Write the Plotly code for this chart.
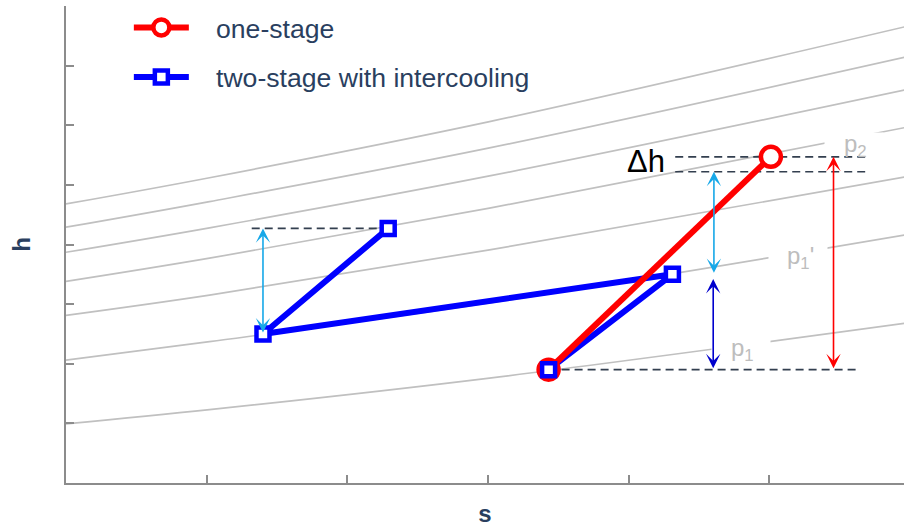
import plotly.graph_objects as go

# ---------------- data ----------------
# isobars in the h-s plane (entropy s, enthalpy h), top line first
isobar_s = [0.0, 1.02, 3.01, 5.96]
isobar_a = [4.68, 5.12, 6.06, 7.65]
isobar_b = [4.29, 4.72, 5.62, 7.14]
isobar_c = [3.87, 4.28, 5.15, 6.59]
isobar_p2 = [3.38, 3.77, 4.61, 5.96]
isobar_d = [2.81, 3.15, 3.91, 5.13]
isobar_p1p = [2.06, 2.37, 3.02, 4.16]
isobar_p1 = [0.99, 1.23, 1.76, 2.68]
isobars = [isobar_a, isobar_b, isobar_c, isobar_p2, isobar_d, isobar_p1p, isobar_p1]

# process lines
one_stage_s = [3.43, 5.01]
one_stage_h = [1.90, 5.47]
two_stage_s = [3.43, 4.31, 1.40, 2.29]
two_stage_h = [1.90, 3.50, 2.50, 4.27]

# dashed reference levels: (s_start, s_end, h)
dash_s0 = [1.32, 4.33, 4.33, 3.43]
dash_s1 = [2.29, 5.68, 5.68, 5.64]
dash_h = [4.27, 5.47, 5.22, 1.90]

# double arrows: s position, lower h, upper h, colour
arrow_s = [1.40, 4.605, 4.60, 5.455]
arrow_lo = [2.50, 3.50, 1.90, 1.90]
arrow_hi = [4.27, 5.22, 3.42, 5.47]
arrow_col = ["#17a8e8", "#17a8e8", "#0000cd", "#ff0000"]

# isobar labels
label_text = ["p<sub>2</sub>", "p<sub>1</sub>'", "p<sub>1</sub>"]
label_s = [5.61, 5.22, 4.81]
label_h = [5.66, 3.78, 2.24]
# white gaps in the isobars behind the labels
gap_s = [5.604, 5.205, 4.80]
gap_h = [5.74, 3.82, 2.31]
gap_px_h = [16, 17, 15]

delta_label = "Δh"
delta_s = 4.27
delta_h = 5.39

S_RANGE = [0, 5.956]
H_RANGE = [0, 8]

FONT = "Liberation Sans, Arial, sans-serif"
TXT = "#2a3f5f"
AXC = "#8c8c8c"
NB = "\u00a0\u00a0\u00a0"

RED_LINE = dict(color="#ff0000", width=6)
RED_MARK = dict(symbol="circle", size=20, color="white", line=dict(color="#ff0000", width=4.5))
BLUE_LINE = dict(color="#0000ff", width=6)
BLUE_MARK = dict(symbol="square", size=13, color="white", line=dict(color="#0000ff", width=4.5))

fig = go.Figure()

for h in isobars:
    fig.add_trace(go.Scatter(x=isobar_s, y=h, mode="lines", line=dict(color="#c0c0c0", width=1.7, shape="spline"),
                             showlegend=False, hoverinfo="skip"))

for s0, s1, h in zip(dash_s0, dash_s1, dash_h):
    fig.add_trace(go.Scatter(x=[s0, s1], y=[h, h], mode="lines",
                             line=dict(color="#333f4f", width=1.7, dash="8px,5px"),
                             showlegend=False, hoverinfo="skip"))

# two-stage path (line below the one-stage line)
fig.add_trace(go.Scatter(x=two_stage_s, y=two_stage_h, mode="lines", line=BLUE_LINE,
                         showlegend=False, legendgroup="b"))
# one-stage path
fig.add_trace(go.Scatter(x=one_stage_s, y=one_stage_h, mode="lines+markers", name=NB + "one-stage",
                         legendgroup="a", line=RED_LINE, marker=RED_MARK))
# two-stage state markers on top
fig.add_trace(go.Scatter(x=two_stage_s, y=two_stage_h, mode="markers", marker=BLUE_MARK,
                         showlegend=False, legendgroup="b"))
# legend entry for the two-stage path
fig.add_trace(go.Scatter(x=[None], y=[None], mode="lines+markers", name=NB + "two-stage with intercooling",
                         legendgroup="b", line=BLUE_LINE, marker=BLUE_MARK))

ann = []
for s, h, ph in zip(gap_s, gap_h, gap_px_h):
    ann.append(dict(x=s, y=h, xref="x", yref="y", text="\u00a0", showarrow=False,
                    width=58, height=ph, bgcolor="white", borderpad=0))
for t, s, h in zip(label_text, label_s, label_h):
    ann.append(dict(x=s, y=h, xref="x", yref="y", text=t, showarrow=False,
                    font=dict(family=FONT, size=24, color="#bdbdbd")))
for s, lo, hi, c in zip(arrow_s, arrow_lo, arrow_hi, arrow_col):
    ann.append(dict(x=s, y=hi, ax=s, ay=lo, xref="x", yref="y", axref="x", ayref="y",
                    text="", showarrow=True, arrowside="end+start",
                    arrowhead=3, startarrowhead=3, arrowsize=1.5, startarrowsize=1.5,
                    arrowwidth=1.6, arrowcolor=c, standoff=0, startstandoff=0))
ann.append(dict(x=delta_s, y=delta_h, xref="x", yref="y", text=delta_label, showarrow=False,
                xanchor="right", font=dict(family=FONT, size=31, color="black")))

fig.update_layout(
    width=904, height=527,
    margin=dict(l=66, r=0, t=6, b=44, autoexpand=False),
    paper_bgcolor="white", plot_bgcolor="white",
    font=dict(family=FONT, color=TXT),
    showlegend=True,
    legend=dict(x=0.075, y=1.005, xanchor="left", yanchor="top", bgcolor="rgba(0,0,0,0)",
                traceorder="grouped", tracegroupgap=12,
                font=dict(family=FONT, size=26.6, color=TXT), itemwidth=55),
    annotations=ann,
    xaxis=dict(range=S_RANGE, dtick=1, tick0=0, showticklabels=False, ticks="inside", ticklen=8,
               tickwidth=2, tickcolor=AXC, showline=True, linecolor=AXC, linewidth=2,
               showgrid=False, zeroline=False, fixedrange=True, automargin=False,
               title=dict(text="<b>s</b>", font=dict(family=FONT, size=24, color=TXT), standoff=31)),
    yaxis=dict(range=H_RANGE, dtick=1, tick0=0, showticklabels=False, ticks="inside", ticklen=8,
               tickwidth=2, tickcolor=AXC, showline=True, linecolor=AXC, linewidth=2,
               showgrid=False, zeroline=False, fixedrange=True, automargin=False,
               title=dict(text="<b>h</b>", font=dict(family=FONT, size=24, color=TXT), standoff=27)),
)

fig.write_html("out.html", config={"displayModeBar": False},
               post_script="document.body.style.margin='0px';document.body.style.overflow='hidden';")
